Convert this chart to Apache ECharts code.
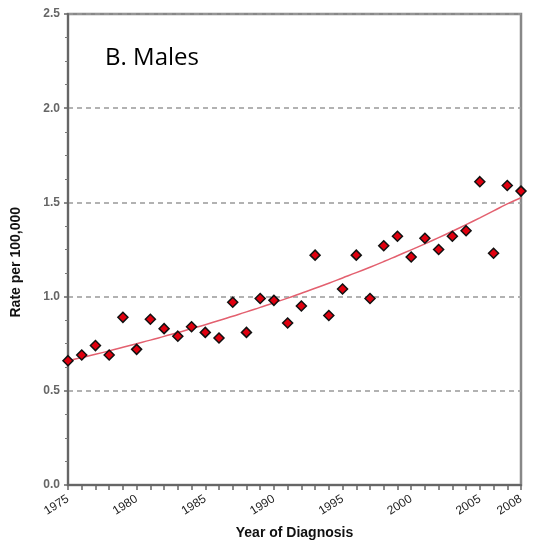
<!DOCTYPE html>
<html>
<head>
<meta charset="utf-8">
<script src="https://cdn.jsdelivr.net/npm/echarts@6/dist/echarts.min.js"></script>
<style>
html,body{margin:0;padding:0;background:#fff;}
#chart{width:533px;height:541px;}
</style>
</head>
<body>
<div id="chart"></div>
<script>
const years = [];
for (let y = 1975; y <= 2008; y++) years.push(String(y));
const xTickLabels = ['1975','1980','1985','1990','1995','2000','2005','2008'];
const observedRates = [0.66,0.69,0.74,0.69,0.89,0.72,0.88,0.83,0.79,0.84,0.81,0.78,0.97,0.81,0.99,
  0.98,0.86,0.95,1.22,0.90,1.04,1.22,0.99,1.27,1.32,1.21,1.31,1.25,1.32,1.35,1.61,1.23,1.59,1.56];
const trendRates = [0.66,0.677,0.694,0.712,0.731,0.750,0.769,0.789,0.809,0.830,0.851,0.873,0.896,0.919,0.943,
  0.967,0.992,1.018,1.044,1.071,1.099,1.127,1.156,1.186,1.217,1.248,1.280,1.313,1.347,1.382,1.418,1.455,1.492,1.525];
const yTicks = {min: 0, max: 2.5, interval: 0.5};
const titleText = 'B. Males';
const xName = 'Year of Diagnosis';
const yName = 'Rate per 100,000';

const chart = echarts.init(document.getElementById('chart'));
chart.setOption({
  animation: false,
  backgroundColor: '#fff',
  title: {
    text: titleText, left: 100, top: 41,
    textStyle: {fontFamily: 'Open Sans', fontSize: 24, fontWeight: 'normal', color: '#000'}
  },
  graphic: [{
    type: 'text', left: 9, top: 207, rotation: Math.PI / 2,
    style: {text: yName, fontFamily: 'Liberation Sans', fontWeight: 'bold', fontSize: 14, fill: '#111'}
  }],
  grid: {left: 68, right: 12, top: 14, bottom: 56, show: true, borderColor: '#888', borderWidth: 2.5,
    outerBoundsMode: 'none', containLabel: false},
  xAxis: {
    type: 'category', data: years, boundaryGap: false,
    name: xName, nameLocation: 'middle', nameGap: 41,
    nameTextStyle: {fontFamily: 'Liberation Sans', fontWeight: 'bold', fontSize: 14, color: '#111'},
    axisLine: {lineStyle: {color: '#666', width: 2}},
    axisTick: {show: true, interval: 0, length: 5, lineStyle: {color: '#666', width: 1.5}},
    axisLabel: {
      interval: (i, v) => xTickLabels.includes(v),
      rotate: 32, margin: 13, fontFamily: 'Liberation Sans', fontSize: 12, color: '#222'
    },
    splitLine: {show: false}
  },
  yAxis: {
    type: 'value', min: yTicks.min, max: yTicks.max, interval: yTicks.interval,
    axisLine: {show: true, lineStyle: {color: '#666', width: 2}},
    axisTick: {show: true, length: 4, lineStyle: {color: '#666', width: 1.5}},
    minorTick: {show: true, splitNumber: 4, length: 3, lineStyle: {color: '#777', width: 1}},
    axisLabel: {fontFamily: 'Liberation Sans', fontSize: 12, fontWeight: 'bold', color: '#666', margin: 8,
      formatter: v => v.toFixed(1)},
    splitLine: {show: true, lineStyle: {color: '#999', type: [5, 4], width: 1.5}}
  },
  series: [
    {
      type: 'line', data: trendRates, smooth: true, showSymbol: false, symbol: 'none',
      lineStyle: {color: '#e3606f', width: 1.5}, z: 2
    },
    {
      type: 'scatter', data: observedRates, symbol: 'diamond', symbolSize: 10,
      itemStyle: {color: '#e0000f', borderColor: '#111', borderWidth: 1.5, opacity: 1}, z: 3
    }
  ]
});
</script>
</body>
</html>
